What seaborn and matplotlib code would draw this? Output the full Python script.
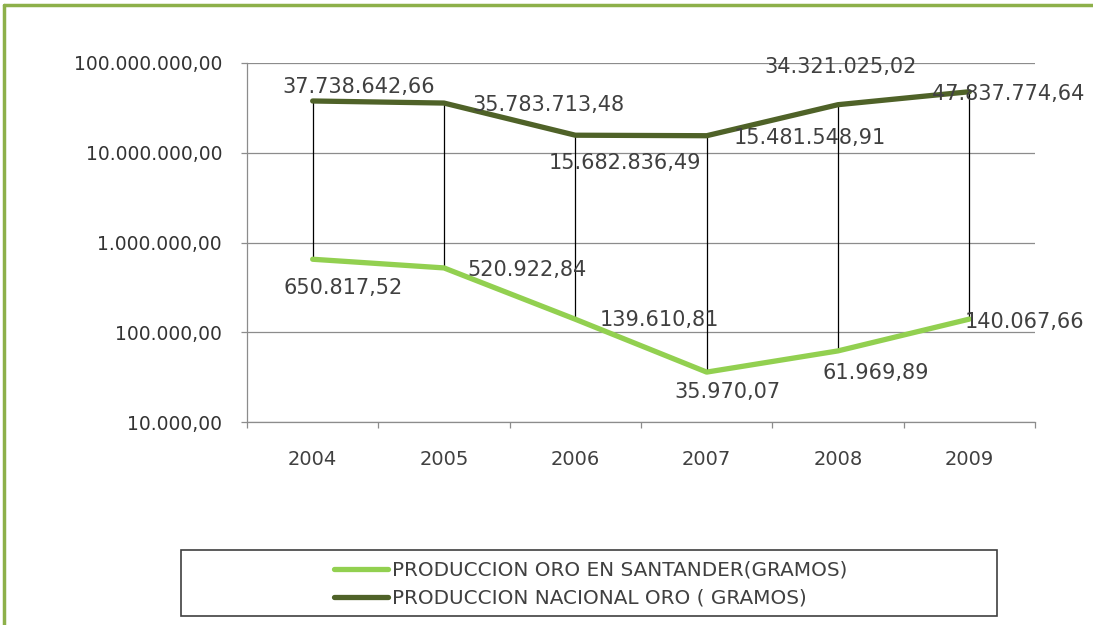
import matplotlib
matplotlib.use("Agg")
import matplotlib.pyplot as plt
import matplotlib.ticker as mticker
from matplotlib.patches import Rectangle
from matplotlib.lines import Line2D
import seaborn as sns
import pandas as pd
import numpy as np

years = ["2004", "2005", "2006", "2007", "2008", "2009"]
santander = [650817.52, 520922.84, 139610.81, 35970.07, 61969.89, 140067.66]
nacional = [37738642.66, 35783713.48, 15682836.49, 15481548.91, 34321025.02, 47837774.64]
santander_labels = ["650.817,52", "520.922,84", "139.610,81", "35.970,07", "61.969,89", "140.067,66"]
nacional_labels = ["37.738.642,66", "35.783.713,48", "15.682.836,49", "15.481.548,91", "34.321.025,02", "47.837.774,64"]
name_s = "PRODUCCION ORO EN SANTANDER(GRAMOS)"
name_n = "PRODUCCION NACIONAL ORO ( GRAMOS)"
y_ticks = [1e4, 1e5, 1e6, 1e7, 1e8]
y_tick_labels = ["10.000,00", "100.000,00", "1.000.000,00", "10.000.000,00", "100.000.000,00"]

# label offsets in pixels (dx, dy) relative to point
off_s = [(30, -29), (83, -2), (84, -1), (21, -20), (38, -22), (55, -3)]
off_n = [(46, 14), (104, -2), (50, -28), (103, -2), (3, 38), (39, -2)]

c_s = "#92D050"
c_n = "#4F6228"
txt = "#404040"

sns.set_theme(style="white")
plt.rcParams["font.family"] = ["DejaVu Sans"]

fig = plt.figure(figsize=(10.93, 6.25), dpi=100)
fig.patch.set_facecolor("white")
W, H = 1093, 625
ax = fig.add_axes([247 / W, (H - 422) / H, (1035 - 247) / W, (422 - 63) / H])

x = np.arange(len(years))
df = pd.DataFrame({"x": np.concatenate([x, x]),
                   "v": santander + nacional,
                   "serie": [name_s] * len(years) + [name_n] * len(years)})

# drop (high-low) lines
lo = np.minimum(santander, nacional)
hi = np.maximum(santander, nacional)
ax.vlines(x, lo, hi, color="black", lw=0.9, zorder=3)

sns.lineplot(data=df, x="x", y="v", hue="serie", palette={name_s: c_s, name_n: c_n},
             linewidth=3.8, ax=ax, legend=False, zorder=4)

ax.set_yscale("log")
ax.set_ylim(1e4, 1e8)
ax.set_xlim(-0.5, len(years) - 0.5)
ax.yaxis.set_major_locator(mticker.FixedLocator(y_ticks))
ax.yaxis.set_major_formatter(mticker.FixedFormatter(y_tick_labels))
ax.yaxis.set_minor_locator(mticker.NullLocator())
ax.grid(axis="y", color="#8c8c8c", lw=0.9)
ax.set_axisbelow(True)

ax.set_xticks(np.arange(-0.5, len(years)), minor=False)
ax.set_xticklabels([""] * (len(years) + 1))
ax.set_xticks(x, minor=True)
ax.set_xticklabels(years, minor=True)
ax.tick_params(axis="x", which="major", length=4, width=0.9, color="#8c8c8c", direction="out", bottom=True)
ax.tick_params(axis="x", which="minor", length=0, pad=20, labelsize=14, labelcolor=txt, bottom=True)
ax.tick_params(axis="y", which="major", length=4, width=0.9, color="#8c8c8c", direction="out",
               pad=14, labelsize=13.5, labelcolor="#333333", left=True)
ax.set_xlabel("")
ax.set_ylabel("")
for s in ["top", "right"]:
    ax.spines[s].set_visible(False)
for s in ["left", "bottom"]:
    ax.spines[s].set_color("#8c8c8c")
    ax.spines[s].set_linewidth(0.9)

for i in range(len(years)):
    ax.annotate(santander_labels[i], (x[i], santander[i]), xytext=off_s[i],
                textcoords="offset pixels", ha="center", va="center",
                fontsize=15, color=txt, zorder=5)
    ax.annotate(nacional_labels[i], (x[i], nacional[i]), xytext=off_n[i],
                textcoords="offset pixels", ha="center", va="center",
                fontsize=15, color=txt, zorder=5, annotation_clip=False)

# legend box
fig.add_artist(Rectangle((181 / W, (H - 616) / H), (997 - 181) / W, (616 - 550) / H,
                         transform=fig.transFigure, facecolor="white",
                         edgecolor="#404040", lw=1.2, zorder=1))
handles = [Line2D([0], [0], color=c_s, lw=3.8), Line2D([0], [0], color=c_n, lw=3.8)]
leg = fig.legend(handles, [name_s, name_n], loc="center",
                 bbox_to_anchor=(591 / W, (H - 584) / H), frameon=False,
                 fontsize=14.4, handlelength=2.7, handletextpad=0.2, labelspacing=0.45,
                 borderpad=0.2, labelcolor=txt)
leg.set_zorder(2)

# outer green frame (top and left visible)
fig.add_artist(Line2D([4 / W, 1], [1 - 5 / H, 1 - 5 / H], transform=fig.transFigure,
                      color="#8DB04A", lw=2.5))
fig.add_artist(Line2D([4 / W, 4 / W], [0, 1 - 5 / H], transform=fig.transFigure,
                      color="#8DB04A", lw=2.5))

fig.savefig("out.png", dpi=100, facecolor="white")
